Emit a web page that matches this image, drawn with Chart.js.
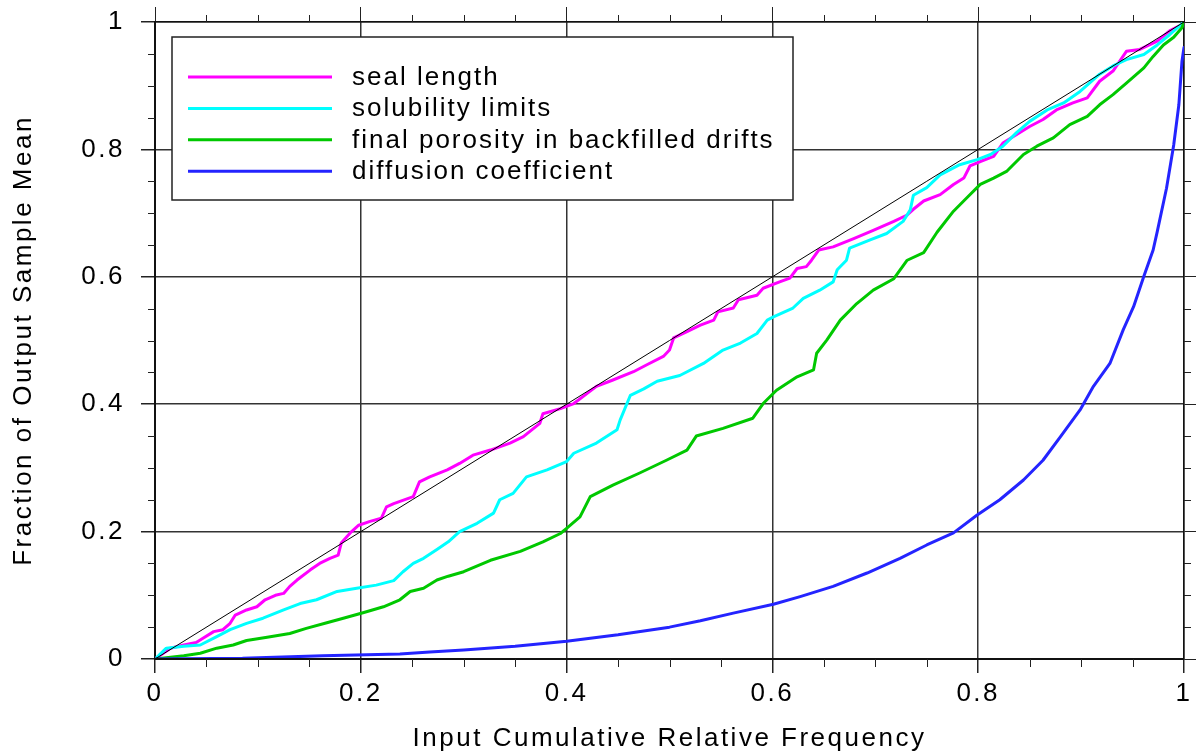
<!DOCTYPE html>
<html>
<head>
<meta charset="utf-8">
<script src="https://cdn.jsdelivr.net/npm/chart.js@4.4.1/dist/chart.umd.min.js"></script>
<style>
html,body{margin:0;padding:0;background:#fff;}
#wrap{width:1196px;height:756px;}
</style>
</head>
<body>
<div id="wrap"><canvas id="c" width="1196" height="756"></canvas></div>
<script>
// ---------- data ----------
const xTitle = 'Input Cumulative Relative Frequency';
const yTitle = 'Fraction of Output Sample Mean';
const tickLabels = ['0', '0.2', '0.4', '0.6', '0.8', '1'];
const seriesNames = ['seal length', 'solubility limits', 'final porosity in backfilled drifts', 'diffusion coefficient'];
const seriesColors = ['#ff00ff', '#00ffff', '#00c800', '#2424ff'];

const sealX = [0, 0.015, 0.028, 0.040, 0.047, 0.057, 0.066, 0.073, 0.078, 0.089, 0.099, 0.107, 0.117, 0.125, 0.131, 0.138, 0.151, 0.160, 0.170, 0.178, 0.181, 0.191, 0.198, 0.209, 0.220, 0.225, 0.232, 0.251, 0.257, 0.267, 0.284, 0.296, 0.309, 0.326, 0.345, 0.358, 0.374, 0.377, 0.394, 0.407, 0.420, 0.429, 0.445, 0.465, 0.478, 0.494, 0.500, 0.504, 0.517, 0.530, 0.543, 0.547, 0.562, 0.567, 0.585, 0.591, 0.607, 0.617, 0.624, 0.633, 0.638, 0.645, 0.659, 0.679, 0.698, 0.718, 0.731, 0.737, 0.747, 0.763, 0.776, 0.786, 0.792, 0.802, 0.815, 0.824, 0.837, 0.850, 0.863, 0.876, 0.892, 0.906, 0.918, 0.931, 0.944, 0.957, 0.974, 0.986, 0.998, 1];
const sealY = [0, 0.017, 0.022, 0.026, 0.033, 0.043, 0.046, 0.056, 0.069, 0.077, 0.082, 0.093, 0.100, 0.103, 0.114, 0.124, 0.140, 0.150, 0.158, 0.163, 0.182, 0.200, 0.210, 0.216, 0.221, 0.239, 0.244, 0.255, 0.278, 0.286, 0.297, 0.307, 0.320, 0.328, 0.339, 0.349, 0.370, 0.385, 0.393, 0.401, 0.417, 0.428, 0.438, 0.451, 0.462, 0.475, 0.485, 0.504, 0.514, 0.524, 0.532, 0.545, 0.551, 0.564, 0.571, 0.582, 0.592, 0.598, 0.613, 0.616, 0.626, 0.642, 0.647, 0.660, 0.673, 0.687, 0.697, 0.706, 0.719, 0.729, 0.745, 0.755, 0.774, 0.781, 0.789, 0.810, 0.823, 0.836, 0.847, 0.862, 0.873, 0.881, 0.907, 0.923, 0.954, 0.957, 0.970, 0.986, 0.996, 1];

const solX = [0, 0.011, 0.028, 0.044, 0.060, 0.073, 0.089, 0.105, 0.125, 0.141, 0.157, 0.177, 0.196, 0.215, 0.232, 0.241, 0.251, 0.261, 0.274, 0.285, 0.296, 0.313, 0.329, 0.335, 0.348, 0.361, 0.381, 0.400, 0.407, 0.429, 0.449, 0.452, 0.462, 0.475, 0.488, 0.510, 0.533, 0.552, 0.569, 0.585, 0.595, 0.601, 0.620, 0.630, 0.646, 0.659, 0.663, 0.672, 0.675, 0.695, 0.711, 0.727, 0.734, 0.737, 0.750, 0.763, 0.782, 0.799, 0.812, 0.824, 0.837, 0.850, 0.867, 0.883, 0.899, 0.918, 0.931, 0.944, 0.961, 0.974, 0.986, 1];
const solY = [0, 0.017, 0.020, 0.022, 0.035, 0.046, 0.056, 0.064, 0.077, 0.087, 0.093, 0.106, 0.111, 0.116, 0.123, 0.137, 0.150, 0.158, 0.172, 0.184, 0.200, 0.213, 0.229, 0.250, 0.260, 0.286, 0.297, 0.310, 0.323, 0.339, 0.360, 0.375, 0.414, 0.424, 0.436, 0.445, 0.464, 0.485, 0.496, 0.511, 0.532, 0.537, 0.551, 0.566, 0.579, 0.592, 0.611, 0.626, 0.645, 0.658, 0.668, 0.687, 0.705, 0.728, 0.740, 0.760, 0.776, 0.784, 0.792, 0.805, 0.826, 0.844, 0.862, 0.873, 0.891, 0.918, 0.931, 0.941, 0.949, 0.964, 0.980, 1];

const porX = [0, 0.028, 0.044, 0.060, 0.076, 0.089, 0.109, 0.131, 0.147, 0.167, 0.183, 0.203, 0.222, 0.238, 0.248, 0.261, 0.274, 0.285, 0.300, 0.326, 0.355, 0.377, 0.394, 0.400, 0.413, 0.423, 0.445, 0.471, 0.497, 0.517, 0.526, 0.552, 0.581, 0.591, 0.604, 0.624, 0.640, 0.643, 0.653, 0.666, 0.682, 0.698, 0.718, 0.731, 0.747, 0.760, 0.776, 0.789, 0.802, 0.815, 0.828, 0.844, 0.857, 0.873, 0.889, 0.906, 0.918, 0.931, 0.944, 0.961, 0.970, 0.980, 0.990, 0.998, 1];
const porY = [0, 0.005, 0.009, 0.017, 0.022, 0.029, 0.034, 0.040, 0.048, 0.057, 0.064, 0.073, 0.082, 0.093, 0.106, 0.111, 0.124, 0.130, 0.137, 0.155, 0.169, 0.184, 0.197, 0.205, 0.223, 0.255, 0.273, 0.292, 0.312, 0.328, 0.350, 0.362, 0.378, 0.401, 0.422, 0.443, 0.454, 0.480, 0.501, 0.532, 0.558, 0.579, 0.597, 0.626, 0.638, 0.670, 0.703, 0.724, 0.745, 0.755, 0.766, 0.792, 0.805, 0.818, 0.839, 0.852, 0.870, 0.886, 0.904, 0.928, 0.946, 0.964, 0.976, 0.991, 1];

const difX = [0, 0.085, 0.163, 0.238, 0.267, 0.300, 0.350, 0.400, 0.450, 0.500, 0.530, 0.562, 0.601, 0.627, 0.659, 0.692, 0.724, 0.750, 0.776, 0.799, 0.821, 0.844, 0.863, 0.880, 0.899, 0.912, 0.928, 0.941, 0.951, 0.961, 0.970, 0.974, 0.983, 0.990, 0.995, 0.998, 1];
const difY = [0, 0.001, 0.005, 0.008, 0.011, 0.014, 0.020, 0.028, 0.038, 0.050, 0.060, 0.072, 0.086, 0.098, 0.114, 0.135, 0.158, 0.179, 0.198, 0.226, 0.250, 0.281, 0.312, 0.349, 0.391, 0.428, 0.464, 0.517, 0.553, 0.601, 0.642, 0.671, 0.739, 0.807, 0.870, 0.938, 0.960];

const refX = [0, 1];
const refY = [0, 1];

const axisMin = 0, axisMax = 1, majorStep = 0.2, minorStep = 0.05;

// ---------- helpers ----------
const FONT = '"Liberation Sans", Arial, Helvetica, sans-serif';
const zip = (xs, ys) => xs.map((x, i) => ({x: x, y: ys[i]}));
const seriesData = [zip(sealX, sealY), zip(solX, solY), zip(porX, porY), zip(difX, difY)];

const datasets = [{
  label: 'reference', data: zip(refX, refY), borderColor: '#000', borderWidth: 1,
  pointRadius: 0, order: 0, tension: 0
}];
seriesNames.forEach((name, i) => {
  datasets.push({
    label: name, data: seriesData[i], borderColor: seriesColors[i], borderWidth: 3,
    pointRadius: 0, order: 4 - i + 1, tension: 0, borderJoinStyle: 'round', borderCapStyle: 'round'
  });
});

const axisFont = {family: FONT, size: 26};

const spacingPlugin = {
  id: 'spacing',
  beforeLayout(chart) { chart.ctx.letterSpacing = '2.5px'; },
  beforeDraw(chart) { chart.ctx.letterSpacing = '2.5px'; }
};

const frameTicksPlugin = {
  id: 'frameTicks',
  afterDatasetsDraw(chart) {
    const ctx = chart.ctx, a = chart.chartArea;
    const sx = chart.scales.x, sy = chart.scales.y;
    ctx.save();
    ctx.strokeStyle = '#111';
    ctx.lineWidth = 2;
    ctx.beginPath();
    ctx.moveTo(a.left, a.bottom); ctx.lineTo(a.right, a.bottom);
    ctx.stroke();
    ctx.strokeStyle = '#222';
    ctx.lineWidth = 1;
    const n = Math.round((axisMax - axisMin) / minorStep);
    for (let k = 1; k < n; k++) {
      const v = axisMin + k * minorStep;
      const r = v / majorStep;
      if (Math.abs(r - Math.round(r)) < 1e-6) continue;
      const px = Math.round(sx.getPixelForValue(v)) + 0.5;
      const py = Math.round(sy.getPixelForValue(v)) + 0.5;
      ctx.beginPath();
      ctx.moveTo(px, a.bottom); ctx.lineTo(px, a.bottom + 8);
      ctx.moveTo(px, a.top); ctx.lineTo(px, a.top - 7);
      ctx.moveTo(a.left, py); ctx.lineTo(a.left - 7, py);
      ctx.moveTo(a.right, py); ctx.lineTo(a.right + 7, py);
      ctx.stroke();
    }
    ctx.restore();
  }
};

const legendPlugin = {
  id: 'boxLegend',
  afterDraw(chart) {
    const ctx = chart.ctx, a = chart.chartArea;
    const left = a.left + 17, top = a.top + 15, w = 621, h = 163;
    ctx.save();
    ctx.fillStyle = '#fff';
    ctx.fillRect(left, top, w, h);
    ctx.strokeStyle = '#222';
    ctx.lineWidth = 1.5;
    ctx.strokeRect(left, top, w, h);
    ctx.font = '26px ' + FONT;
    ctx.letterSpacing = '2px';
    ctx.textBaseline = 'alphabetic';
    ctx.textAlign = 'left';
    seriesNames.forEach((name, i) => {
      const y = top + 40 + i * 31.4;
      ctx.strokeStyle = seriesColors[i];
      ctx.lineWidth = 3;
      ctx.beginPath();
      ctx.moveTo(left + 16, y); ctx.lineTo(left + 160, y);
      ctx.stroke();
      ctx.fillStyle = '#000';
      ctx.fillText(name, left + 180, y + 8);
    });
    ctx.restore();
  }
};

new Chart(document.getElementById('c'), {
  type: 'line',
  data: {datasets: datasets},
  options: {
    responsive: false,
    animation: false,
    devicePixelRatio: 1,
    layout: {padding: 0},
    plugins: {legend: {display: false}, tooltip: {enabled: false}},
    elements: {line: {fill: false}},
    scales: {
      x: {
        type: 'linear', position: 'bottom', min: axisMin, max: axisMax,
        ticks: {stepSize: majorStep, color: '#000', font: axisFont, padding: 5, maxRotation: 0, autoSkip: false,
                callback: (v, i) => tickLabels[i]},
        grid: {color: '#333', lineWidth: 1.5, tickLength: 14, tickColor: '#222', drawTicks: true},
        border: {display: true, color: '#111', width: 2},
        title: {display: true, text: xTitle, color: '#000', font: axisFont, padding: {top: 0, bottom: 2}},
        afterFit(s) { s.height = 97; s.paddingLeft = 0; s.paddingRight = 0; }
      },
      y: {
        type: 'linear', position: 'left', min: axisMin, max: axisMax,
        ticks: {stepSize: majorStep, color: '#000', font: axisFont, padding: 16, autoSkip: false,
                callback: (v, i) => tickLabels[i]},
        grid: {color: '#333', lineWidth: 1.5, tickLength: 14, tickColor: '#222', drawTicks: true},
        border: {display: true, color: '#111', width: 2},
        title: {display: true, text: yTitle, color: '#000', font: axisFont, padding: {top: 8, bottom: 0}},
        afterFit(s) { s.width = 155; s.paddingTop = 0; s.paddingBottom = 0; }
      },
      x2: {
        type: 'linear', position: 'top', min: axisMin, max: axisMax,
        ticks: {display: false, stepSize: majorStep},
        grid: {drawOnChartArea: false, tickLength: 15, tickColor: '#222', drawTicks: true},
        border: {display: true, color: '#111', width: 1.5},
        afterFit(s) { s.height = 22; }
      },
      y2: {
        type: 'linear', position: 'right', min: axisMin, max: axisMax,
        ticks: {display: false, stepSize: majorStep},
        grid: {drawOnChartArea: false, tickLength: 12, tickColor: '#222', drawTicks: true},
        border: {display: true, color: '#111', width: 1.5},
        afterFit(s) { s.width = 12; }
      }
    }
  },
  plugins: [spacingPlugin, frameTicksPlugin, legendPlugin]
});
</script>
</body>
</html>
